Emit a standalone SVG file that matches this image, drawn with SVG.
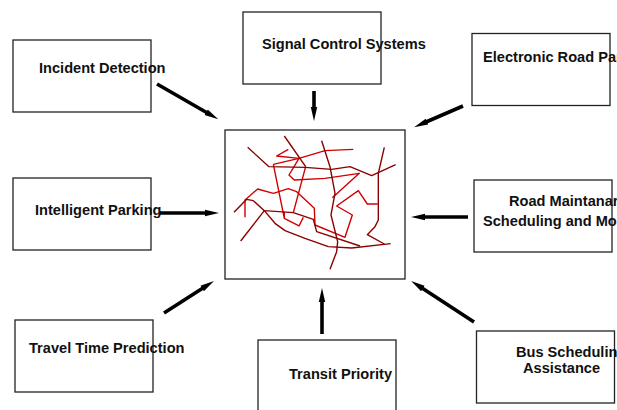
<svg xmlns="http://www.w3.org/2000/svg" width="617" height="410" viewBox="0 0 617 410">
<style>
.box{fill:#fff;stroke:#222;stroke-width:1.3}
.lbl{font-family:"Liberation Sans",Arial,sans-serif;font-weight:bold;font-size:14.6px;fill:#111}
.arr{stroke:#000;stroke-width:3.6;fill:none;marker-end:url(#head)}
.dark{fill:none;stroke:#8b0000;stroke-width:4.2;stroke-linejoin:round}
.red{fill:none;stroke:#d00000;stroke-width:4.2;stroke-linejoin:round}
</style>
<defs>
<marker id="head" markerUnits="userSpaceOnUse" markerWidth="16" markerHeight="8" viewBox="0 0 16 8" refX="1" refY="4" orient="auto"><path d="M0 .8L14 4L0 7.200z" fill="#000"/></marker>
</defs>
<rect width="617" height="410" fill="#fff"/>
<g id="node-network">
<rect class="box" x="225" y="130" width="180" height="149"/>
<g transform="translate(225 130) scale(.3333)">
<path class="red" d="M190 58L155 78L222 85L300 62L385 58"/>
<path class="red" d="M145 103L222 85L192 135L208 150L300 145L403 130L322 203"/>
<path class="red" d="M145 103L178 265L222 288L235 262M178 265V245"/>
<path class="red" d="M242 110L205 248"/>
<path class="red" d="M60 262V210L98 177L145 190L190 176L215 185L268 235L270 285L360 322L382 255L335 228L400 182L427 222L458 222"/>
<path class="dark" d="M68 52L132 110L240 112L320 118L375 110L440 137L512 104"/>
<path class="dark" d="M178 18L242 110"/>
<path class="dark" d="M205 248L118 242L47 333"/>
<path class="dark" d="M290 32L315 110L330 190L318 255L338 335L335 365L315 418"/>
<path class="dark" d="M478 52L460 130V270L450 290L427 314L478 342"/>
<path class="dark" d="M27 247L65 208L85 212L118 242L150 280L180 302L240 325L310 350L380 354L497 341"/>
<path class="dark" d="M205 248L265 268L275 305L405 348"/>
</g>
</g>
<g id="node-incident"><rect class="box" x="13" y="40" width="138" height="72"/><text class="lbl" x="39" y="73">Incident Detection</text></g>
<g id="node-signal"><rect class="box" x="243" y="12" width="138" height="72"/><text class="lbl" x="262" y="49">Signal Control Systems</text></g>
<g id="node-erp"><rect class="box" x="472" y="33.500" width="138" height="72"/><text class="lbl" x="483" y="62">Electronic Road Par</text></g>
<g id="node-parking"><rect class="box" x="13" y="178" width="138" height="72"/><text class="lbl" x="35" y="215">Intelligent Parking</text></g>
<g id="node-road"><rect class="box" x="474" y="180" width="138" height="72"/><text class="lbl" x="509" y="206">Road Maintanar</text><text class="lbl" x="483" y="226">Scheduling and Mo</text></g>
<g id="node-travel"><rect class="box" x="15" y="320" width="138" height="72"/><text class="lbl" x="29" y="353">Travel Time Prediction</text></g>
<g id="node-transit"><rect class="box" x="258" y="340" width="138" height="72"/><text class="lbl" x="289" y="379">Transit Priority</text></g>
<g id="node-bus"><rect class="box" x="476.500" y="331" width="138" height="72"/><text class="lbl" x="516" y="357">Bus Schedulin</text><text class="lbl" x="523" y="373">Assistance</text></g>
<g id="connectors">
<line class="arr" x1="157" y1="84" x2="207" y2="112.700"/>
<line class="arr" x1="314" y1="91" x2="314" y2="108"/>
<line class="arr" x1="463" y1="106" x2="426" y2="122"/>
<line class="arr" x1="468" y1="217" x2="424" y2="217"/>
<line class="arr" x1="474" y1="322" x2="422" y2="288"/>
<line class="arr" x1="160" y1="213" x2="206" y2="213"/>
<line class="arr" x1="164" y1="313" x2="203" y2="288"/>
<line class="arr" x1="322" y1="334" x2="322" y2="301"/>
</g>
</svg>
